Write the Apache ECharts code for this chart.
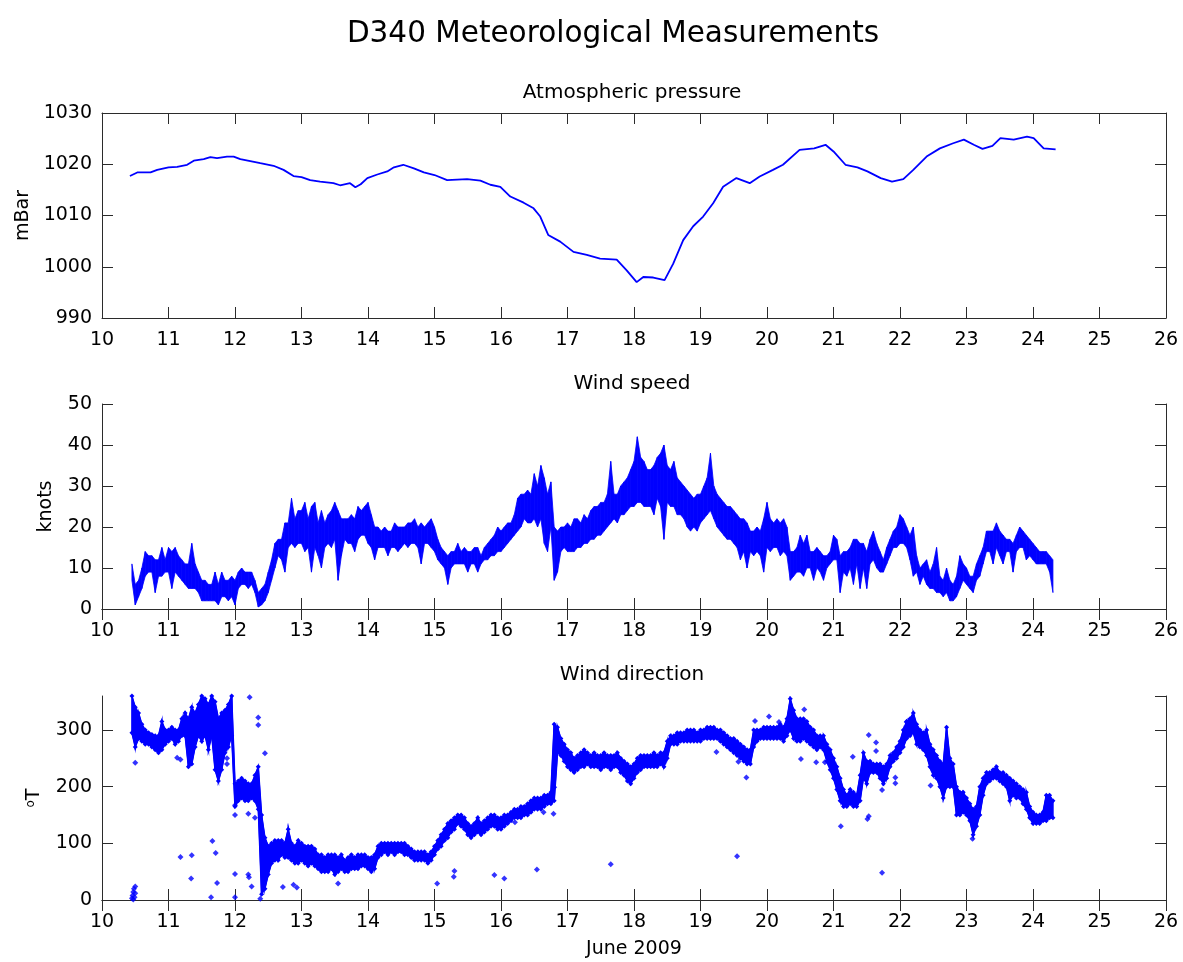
<!DOCTYPE html>
<html><head><meta charset="utf-8">
<script src="https://cdn.jsdelivr.net/npm/echarts@6/dist/echarts.min.js"></script>
<style>html,body{margin:0;padding:0;background:#fff}#c{width:1183px;height:962px}</style>
</head><body><div id="c"></div>
<script>
// ---------- texts ----------
const chartTitle = 'D340 Meteorological Measurements';
const panelTitles = ['Atmospheric pressure', 'Wind speed', 'Wind direction'];
const yNames = ['mBar', 'knots', '{s|o}T'];
const xName = 'June 2009';

// ---------- axes ----------
const xRange = [10, 26, 1];              // min, max, interval (day of June 2009)
const pressureRange = [990, 1030, 10];
const speedRange = [0, 50, 10];
const dirRange = [0, 360, 100];

// ---------- atmospheric pressure (mBar) ----------
const pTime = [10.42,10.53,10.73,10.83,11.0,11.13,11.28,11.38,11.53,11.63,11.73,11.88,11.98,12.08,12.23,12.38,12.58,12.73,12.88,13.0,13.13,13.28,13.48,13.58,13.73,13.81,13.89,13.99,14.14,14.29,14.39,14.53,14.69,14.84,15.0,15.19,15.49,15.69,15.84,15.99,16.14,16.34,16.49,16.59,16.71,16.89,17.09,17.29,17.49,17.74,17.89,18.04,18.14,18.29,18.46,18.59,18.74,18.89,19.04,19.19,19.34,19.54,19.74,19.89,20.09,20.24,20.49,20.71,20.88,21.0,21.18,21.36,21.51,21.71,21.88,22.05,22.2,22.4,22.6,22.8,22.96,23.11,23.24,23.39,23.51,23.71,23.91,24.01,24.16,24.34];
const pValue = [1017.7,1018.4,1018.4,1018.9,1019.4,1019.5,1019.9,1020.7,1021.0,1021.4,1021.2,1021.5,1021.5,1021.0,1020.6,1020.2,1019.7,1018.9,1017.7,1017.5,1016.9,1016.6,1016.3,1015.9,1016.3,1015.5,1016.1,1017.3,1018.0,1018.6,1019.4,1019.9,1019.2,1018.4,1017.9,1016.9,1017.1,1016.8,1016.0,1015.6,1013.7,1012.5,1011.4,1009.8,1006.2,1004.9,1002.9,1002.3,1001.6,1001.4,999.3,997.0,998.0,997.9,997.4,1000.6,1005.2,1007.9,1009.8,1012.4,1015.6,1017.3,1016.3,1017.6,1018.9,1019.9,1022.8,1023.1,1023.8,1022.5,1019.9,1019.4,1018.6,1017.3,1016.6,1017.1,1018.9,1021.5,1023.1,1024.1,1024.8,1023.8,1023.0,1023.6,1025.1,1024.8,1025.4,1025.1,1023.1,1022.9];

// ---------- wind speed (knots): low / high of the trace in 0.05-day bins ----------
const sampleStart = 10.45;
const sampleStep = 0.05;
const speedLow = [
 7,1,3,5,8,9,9,4,8,8,9,
 9,5,9,8,7,6,5,5,5,4,2,2,2,2,2,1,3,3,2,3,
 1,5,6,6,5,6,4,0.5,1,2,4,7,10,13,12,9,15,16,15,16,
 16,14,15,9,15,13,10,15,16,15,17,7,13,17,16,16,14,17,18,18,
 16,15,12,15,15,15,13,15,15,14,15,16,15,16,16,15,11,16,16,15,
 14,12,11,10,6,10,11,11,11,11,9,11,11,9,11,12,12,13,13,14,
 14,15,16,17,18,19,20,22,21,21,22,20,22,16,14,20,7,9,14,15,
 14,14,14,15,15,16,16,17,17,18,18,19,20,21,22,21,23,23,24,25,
 25,26,26,25,25,25,23,27,25,17,26,25,25,23,23,22,20,19,20,19,
 21,22,23,24,22,20,19,18,17,17,16,15,12,14,10,14,13,14,13,9,
 15,14,15,15,13,14,13,7,8,9,9,8,10,10,7,10,9,7,10,11,
 12,12,4,9,8,10,6,11,5,10,5,11,12,10,9,9,11,13,15,15,
 16,16,15,12,8,9,6,8,6,5,5,4,4,3,4,2,2,3,5,7,
 6,5,4,7,8,11,14,14,11,15,13,11,14,14,9,14,15,15,12,13,
 12,11,11,11,11,9,4];
const speedHigh = [
 11,6,7,10,14,13,13,12,12,15,12,
 15,14,15,13,12,11,11,16,11,9,7,7,6,6,9,6,9,7,7,8,
 7,9,10,9,9,9,7,4,5,6,9,12,16,17,17,21,21,27,22,24,
 24,26,22,25,26,21,24,21,23,24,26,24,22,22,22,23,22,25,24,25,
 26,23,20,20,19,20,19,19,21,20,20,20,21,21,22,20,21,20,21,22,
 20,17,15,14,13,14,14,16,14,15,14,14,15,15,13,15,16,17,18,20,
 19,20,21,21,23,27,28,28,29,28,33,30,35,32,28,31,20,19,20,20,
 21,20,22,22,21,23,22,24,25,25,26,26,28,36,28,28,30,31,32,34,
 36,42,37,36,34,34,35,37,38,40,35,34,36,32,31,30,29,28,27,28,
 28,30,32,38,30,28,27,26,25,25,24,23,22,22,21,19,19,20,19,22,
 26,22,21,22,21,22,20,14,14,15,18,16,18,14,14,15,14,13,13,14,
 18,17,13,14,14,15,17,17,16,16,14,17,19,16,14,12,15,17,19,20,
 23,22,20,18,20,13,10,11,12,9,11,15,8,7,10,7,6,8,13,11,
 10,8,8,11,13,15,19,19,19,21,19,18,17,17,16,18,20,19,18,17,
 16,15,14,14,14,13,12];

// ---------- wind direction (deg T): low / high of the dense band, same bins ----------
const dirLow = [
 295,270,285,280,275,275,270,265,260,265,275,
 280,285,275,280,290,290,235,240,270,290,280,290,265,290,230,210,230,260,270,290,
 165,175,180,175,175,180,175,160,10,20,45,65,70,70,80,75,75,70,65,65,
 70,65,60,65,60,55,50,50,50,55,45,50,55,50,50,55,55,55,60,60,
 55,50,55,75,80,85,80,85,80,85,85,80,80,75,70,70,70,70,65,70,
 80,90,95,105,110,120,125,135,130,125,115,110,115,120,115,120,125,130,130,125,
 125,130,135,140,145,145,145,150,150,155,160,160,160,165,170,170,175,260,255,245,
 235,230,225,230,235,235,240,235,235,235,230,235,235,230,235,235,225,220,210,205,
 215,225,230,235,235,235,235,235,240,235,250,275,275,275,280,280,280,280,280,280,
 280,285,285,285,285,285,280,275,270,265,260,255,250,245,240,240,270,280,285,285,
 285,285,285,285,285,280,290,300,285,280,280,285,280,275,270,265,270,265,245,230,
 215,195,175,165,165,170,165,165,175,215,205,225,225,225,215,205,215,235,245,250,
 260,270,285,290,295,275,270,265,255,235,220,215,200,180,200,200,200,150,150,155,
 150,140,115,130,150,185,205,210,215,215,210,205,200,175,185,180,180,170,160,145,
 135,135,135,140,140,145,145];
const dirHigh = [
 360,340,330,310,300,295,292,290,290,315,300,
 300,305,300,300,320,330,320,340,330,345,360,355,345,360,350,320,330,335,345,360,
 205,210,215,210,205,205,220,235,150,110,95,100,105,105,105,100,125,100,95,105,
 100,95,95,95,90,80,80,75,80,80,80,75,80,70,75,80,75,80,80,80,
 75,75,80,95,100,100,100,100,100,100,100,100,95,90,85,85,85,85,80,85,
 95,105,115,125,135,140,145,150,150,145,135,130,135,145,135,140,145,150,150,145,
 145,150,150,155,160,160,165,165,170,175,180,180,180,185,185,190,310,305,285,275,
 265,260,250,255,260,265,260,255,260,255,255,260,255,255,255,260,250,245,240,235,
 240,250,255,255,255,255,260,255,260,260,280,290,290,295,295,295,300,300,300,295,
 300,300,305,305,305,300,300,295,290,285,285,280,275,270,265,265,300,300,300,305,
 305,305,305,305,310,305,320,355,335,320,320,320,315,305,300,290,290,290,275,265,
 250,235,215,195,185,195,190,185,220,260,245,245,240,240,240,235,240,255,260,270,
 280,300,315,320,330,310,300,295,300,275,265,255,245,240,305,250,240,200,190,190,
 180,170,160,165,200,215,225,225,230,235,225,225,220,215,210,205,200,195,190,165,
 155,150,150,155,185,185,175];

// isolated wind direction readings
const strayTime = [10.45,10.46,10.47,10.48,10.49,10.50,10.50,10.47,10.50,11.13,11.18,11.18,11.35,11.34,11.66,11.71,11.73,11.64,11.88,11.88,12.0,12.0,12.0,12.0,12.22,12.35,12.35,12.45,12.2,12.3,12.2,12.21,12.25,12.38,12.72,12.88,12.93,13.55,15.04,15.29,15.3,15.9,16.05,16.54,17.65,19.55,16.79,16.64,16.21,16.8,16.8,19.24,19.57,19.69,19.82,20.03,20.18,20.56,20.51,20.74,20.87,21.11,21.29,21.53,21.64,21.64,21.51,21.53,21.73,21.73,21.93,21.93,22.46,22.1,23.09];
const strayDir = [3,8,14,20,5,12,24,1,242,251,248,76,79,38,104,83,30,5,250,240,46,5,150,167,358,322,309,259,152,145,45,40,24,2,23,27,22,29,29,41,51,44,38,54,63,77,152,155,137,199,228,261,244,216,316,324,314,336,249,243,243,130,253,291,278,263,143,148,48,194,216,206,202,314,108];

// ---------- build ----------
const BLUE = '#0000ff';
const FONT = 'DejaVu Sans';
const AX = '#2b2b2b';

const binTime = i => sampleStart + i * sampleStep;
const edge = arr => arr.map((v, i) => [binTime(i), v]);

// band drawn through the library's coordinate system: one quad per pair of adjacent bins
function bandSeries(axisIndex, lo, hi, strokeWidth) {
  const data = [];
  for (let i = 0; i < lo.length - 1; i++) {
    data.push([binTime(i), lo[i], hi[i], binTime(i + 1), lo[i + 1], hi[i + 1]]);
  }
  return {
    type: 'custom', xAxisIndex: axisIndex, yAxisIndex: axisIndex, clip: true,
    encode: { x: [0, 3], y: [1, 2, 4, 5] },
    data,
    renderItem(params, api) {
      const pts = [
        api.coord([api.value(0), api.value(1)]),
        api.coord([api.value(3), api.value(4)]),
        api.coord([api.value(3), api.value(5)]),
        api.coord([api.value(0), api.value(2)])
      ];
      return { type: 'polygon', shape: { points: pts },
               style: { fill: BLUE, stroke: BLUE, lineWidth: strokeWidth } };
    }
  };
}

const grids = [
  { left: 102, right: 17, top: 113, height: 205 },
  { left: 102, right: 17, top: 404, height: 205 },
  { left: 102, right: 17, top: 696, height: 204 }
];
const yRanges = [pressureRange, speedRange, dirRange];
const nameGaps = [65, 46, 58];
const titleTops = [78, 369, 660];

const xAxes = [], yAxes = [];
grids.forEach((g, i) => {
  const tick = { show: true, inside: true, length: 11, lineStyle: { color: AX, width: 1 } };
  const line = { show: true, lineStyle: { color: AX, width: 1 } };
  xAxes.push({
    type: 'value', gridIndex: i, position: 'bottom', min: xRange[0], max: xRange[1], interval: xRange[2],
    axisLine: line, axisTick: tick, splitLine: { show: false },
    axisLabel: { color: '#000', fontFamily: FONT, fontSize: 19, margin: 13, formatter: v => String(v) },
    name: i === 2 ? xName : '', nameLocation: 'middle', nameGap: 40,
    nameTextStyle: { color: '#000', fontFamily: FONT, fontSize: 19 }
  });
  xAxes.push({
    type: 'value', gridIndex: i, position: 'top', min: xRange[0], max: xRange[1], interval: xRange[2],
    axisLine: line, axisTick: tick, axisLabel: { show: false }, splitLine: { show: false }
  });
  const r = yRanges[i];
  yAxes.push({
    type: 'value', gridIndex: i, position: 'left', min: r[0], max: r[1], interval: r[2],
    axisLine: line, axisTick: tick, splitLine: { show: false },
    axisLabel: { color: '#000', fontFamily: FONT, fontSize: 19, margin: 10, showMaxLabel: i !== 2,
      formatter: v => String(v) },
    name: yNames[i], nameLocation: 'middle', nameGap: nameGaps[i],
    nameTextStyle: { color: '#000', fontFamily: FONT, fontSize: 19,
      rich: { s: { fontFamily: FONT, fontSize: 12, verticalAlign: 'top', color: '#000' } } }
  });
  yAxes.push({
    type: 'value', gridIndex: i, position: 'right', min: r[0], max: r[1], interval: r[2],
    axisLine: line, axisTick: tick, axisLabel: { show: false }, splitLine: { show: false }
  });
});

const titles = [{
  text: chartTitle, left: 608, top: 14, textAlign: 'center',
  textStyle: { fontFamily: FONT, fontSize: 29.5, fontWeight: 'normal', color: '#000' }
}];
panelTitles.forEach((t, i) => titles.push({
  text: t, left: 627, top: titleTops[i], textAlign: 'center',
  textStyle: { fontFamily: FONT, fontSize: 20, fontWeight: 'normal', color: '#000' }
}));

const option = {
  animation: false,
  backgroundColor: '#fff',
  title: titles,
  grid: grids,
  xAxis: xAxes,
  yAxis: yAxes,
  series: [
    {
      type: 'line', xAxisIndex: 0, yAxisIndex: 0, showSymbol: false,
      data: pTime.map((t, i) => [t, pValue[i]]),
      lineStyle: { color: BLUE, width: 1.8 }
    },
    // wind speed: dense noisy trace drawn as its low/high envelope
    bandSeries(2, speedLow, speedHigh, 0.8),
    // wind direction: dense band of diamond markers
    bandSeries(4, dirLow, dirHigh, 1.5),
    {
      type: 'line', xAxisIndex: 4, yAxisIndex: 4,
      showSymbol: true, showAllSymbol: true, symbol: 'diamond', symbolSize: 5,
      data: edge(dirLow), itemStyle: { color: BLUE }, lineStyle: { color: BLUE, width: 1 }
    },
    {
      type: 'line', xAxisIndex: 4, yAxisIndex: 4,
      showSymbol: true, showAllSymbol: true, symbol: 'diamond', symbolSize: 5,
      data: edge(dirHigh), itemStyle: { color: BLUE }, lineStyle: { color: BLUE, width: 1 }
    },
    {
      type: 'scatter', xAxisIndex: 4, yAxisIndex: 4, symbol: 'diamond', symbolSize: 6,
      data: strayTime.map((t, i) => [t, strayDir[i]]),
      itemStyle: { color: BLUE }
    }
  ]
};

echarts.init(document.getElementById('c'), null, { renderer: 'canvas' }).setOption(option);
</script>
</body></html>
